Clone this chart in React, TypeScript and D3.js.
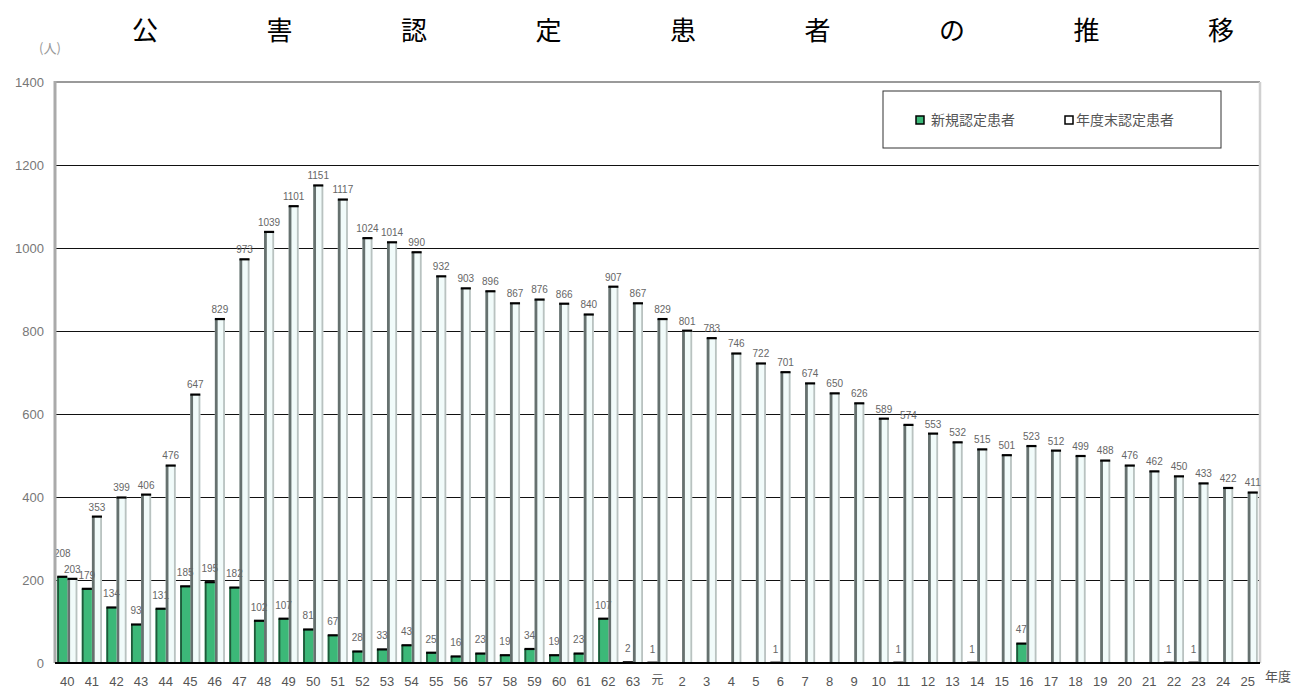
import React from "react";
import * as d3 from "d3";

const categories = [
  "40","41","42","43","44","45","46","47","48","49","50","51","52","53","54","55","56","57","58","59","60","61","62","63","元",
  "2","3","4","5","6","7","8","9","10","11","12","13","14","15","16","17","18","19","20","21","22","23","24","25",
];
const newPatients = [
  208,179,134,93,131,185,195,182,102,107,81,67,28,33,43,25,16,23,19,34,19,23,107,2,1,
  0,0,0,0,1,0,0,0,0,1,0,0,1,0,47,0,0,0,0,0,1,1,0,0,
];
const totalPatients = [
  203,353,399,406,476,647,829,973,1039,1101,1151,1117,1024,1014,990,932,903,896,867,876,866,840,907,867,829,
  801,783,746,722,701,674,650,626,589,574,553,532,515,501,523,512,499,488,476,462,450,433,422,411,
];
const yTicks = [0,200,400,600,800,1000,1200,1400];
const titleChars = ["公","害","認","定","患","者","の","推","移"];
const seriesNames = ["新規認定患者","年度末認定患者"];

const W = 1299, H = 689;
const left = 55, right = 1260, top = 82, bottom = 663;

export default function App() {
  const x = d3.scaleBand<string>().domain(categories).range([left, right]).paddingInner(0.18).paddingOuter(0.09);
  const sub = d3.scaleBand<string>().domain(["n","t"]).range([0, x.bandwidth()]).padding(0);
  const y = d3.scaleLinear().domain([0, 1400]).range([bottom, top]);
  const tx = d3.scalePoint<string>().domain(titleChars.map((c, i) => c + i)).range([145, 1221]);
  const bw = sub.bandwidth();
  const font = "'Liberation Sans', Arial, sans-serif";
  const jp = "'Noto Sans CJK JP', sans-serif";

  return (
    <svg width={W} height={H} style={{ position: "absolute", left: 0, top: 0, background: "#fff" }}>
      {/* title */}
      {titleChars.map((c, i) => (
        <text key={i} x={tx(c + i)} y={40} fontSize={26} fontFamily={jp} textAnchor="middle" fill="#000">{c}</text>
      ))}
      <text x={50} y={53} fontSize={13} fontFamily={jp} fill="#999" textAnchor="middle">(人)</text>

      {/* grid */}
      {yTicks.filter(t => t > 0 && t < 1400).map(t => (
        <line key={t} x1={left} x2={right} y1={Math.round(y(t)) + 0.5} y2={Math.round(y(t)) + 0.5}
          stroke="#111" strokeWidth={1} shapeRendering="crispEdges" />
      ))}
      <line x1={left} x2={right} y1={top} y2={top} stroke="#9a9a9a" strokeWidth={2} />
      <line x1={right} x2={right} y1={top} y2={bottom} stroke="#d0d0d0" strokeWidth={2.5} />

      {/* y ticks */}
      {yTicks.map(t => (
        <text key={t} x={44} y={y(t) + 5} fontSize={13} fontFamily={font} fill="#777" textAnchor="end">{t}</text>
      ))}

      {/* bars */}
      {categories.map((c, i) => {
        const gx = x(c)!;
        const nx = gx + sub("n")!;
        const txx = gx + sub("t")!;
        const nv = newPatients[i];
        const tv = totalPatients[i];
        const ny = y(nv);
        const ty = y(tv);
        const nLabelY = Math.abs(ny - ty) < 16 ? Math.min(ny, ty) - 20 : ny - 10;
        return (
          <g key={c}>
            {/* total bar */}
            <rect x={txx} y={ty} width={bw} height={bottom - ty} fill="#f1fbfa" />
            <rect x={txx} y={ty} width={2.8} height={bottom - ty} fill="#66716f" />
            <rect x={txx + bw - 1.8} y={ty} width={1.8} height={bottom - ty} fill="#b9c2c0" />
            <rect x={txx} y={ty - 1} width={bw} height={2.2} fill="#000" />
            {/* new bar */}
            {nv > 0 && (
              <g>
                <rect x={nx} y={ny} width={bw} height={bottom - ny} fill="#3cb878" />
                <rect x={nx} y={ny} width={1.8} height={bottom - ny} fill="#1f5a3a" />
                <rect x={nx} y={ny - 1} width={bw} height={2.2} fill="#000" />
              </g>
            )}
            {nv > 0 && (
              <text x={nx + bw / 2} y={nLabelY} fontSize={10} fontFamily={font} fill="#666" textAnchor="middle">{nv}</text>
            )}
            <text x={txx + bw / 2} y={ty - 6} fontSize={10} fontFamily={font} fill="#666" textAnchor="middle">{tv}</text>
            <text x={gx + x.bandwidth() / 2} y={c === "元" ? 684 : 686} fontSize={c === "元" ? 12 : 13}
              fontFamily={c === "元" ? jp : font} fill="#555" textAnchor="middle">{c}</text>
          </g>
        );
      })}

      {/* axes */}
      <line x1={left} x2={left} y1={top - 1} y2={bottom} stroke="#aaaaaa" strokeWidth={3} />
      <line x1={left} x2={right} y1={bottom} y2={bottom} stroke="#000" strokeWidth={2} />
      <text x={1278} y={681} fontSize={13} fontFamily={jp} fill="#555" textAnchor="middle">年度</text>

      {/* legend */}
      <rect x={883} y={91} width={338} height={57} fill="#fff" stroke="#333" strokeWidth={1} />
      <rect x={916} y={116} width={8} height={8} fill="#3cb878" stroke="#000" strokeWidth={1.5} />
      <text x={931} y={125} fontSize={14} fontFamily={jp} fill="#555">{seriesNames[0]}</text>
      <rect x={1065} y={116} width={8} height={8} fill="#fff" stroke="#000" strokeWidth={1.5} />
      <text x={1076} y={125} fontSize={14} fontFamily={jp} fill="#555">{seriesNames[1]}</text>
    </svg>
  );
}
